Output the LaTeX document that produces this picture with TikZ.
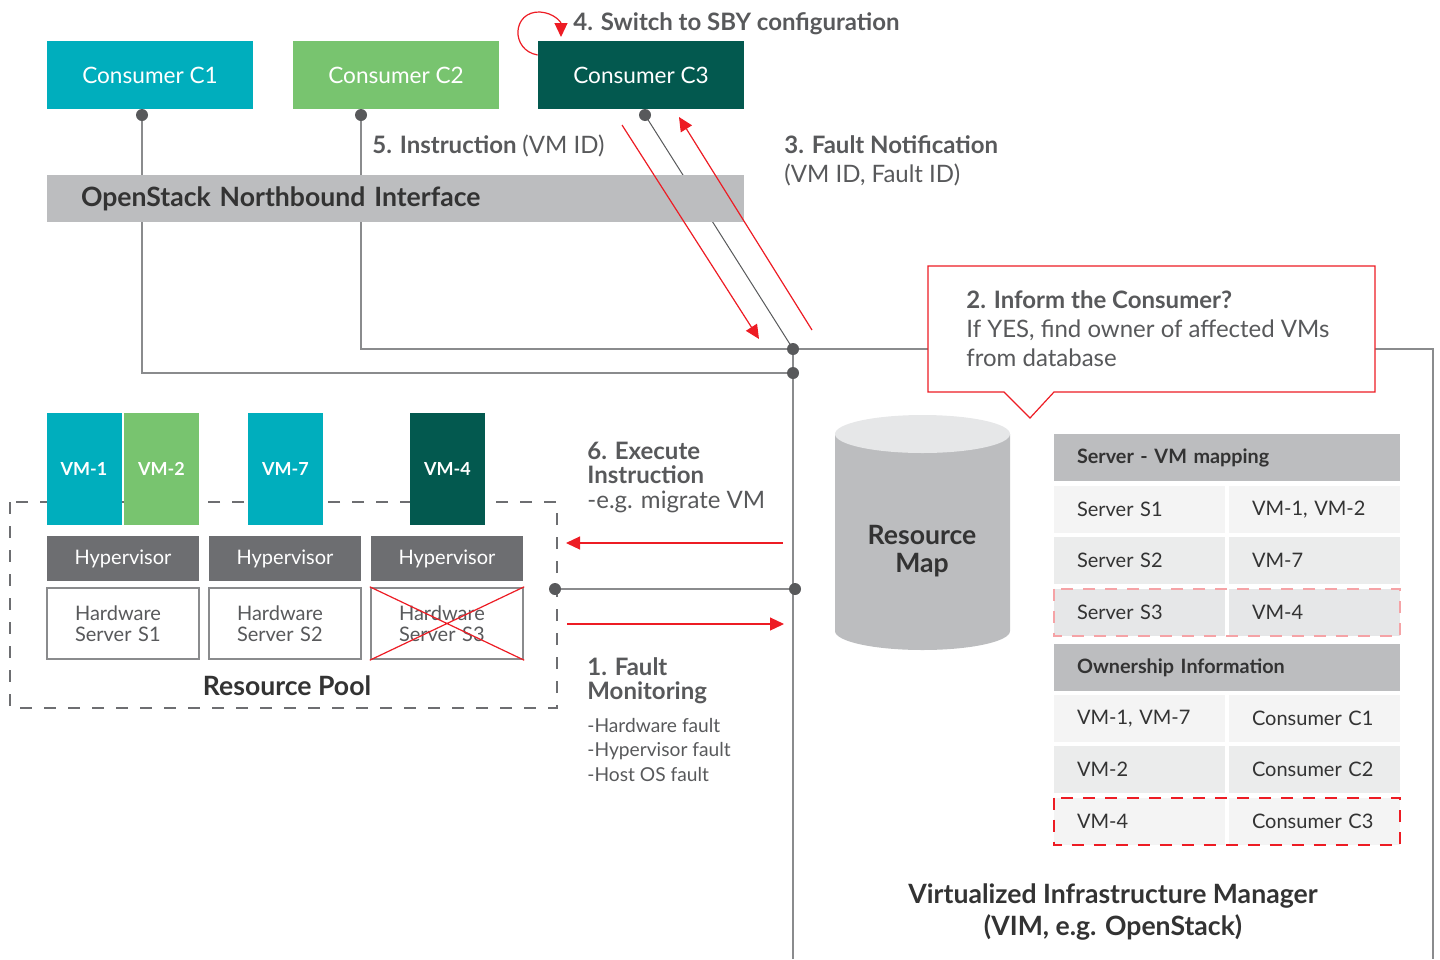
\documentclass[tikz,border=0pt]{standalone}
\usepackage{fontspec}
\setmainfont{Lato}
\usetikzlibrary{arrows.meta}

\definecolor{tealc}{HTML}{00AEBD}
\definecolor{greenc}{HTML}{78C46F}
\definecolor{darkc}{HTML}{03594F}
\definecolor{barg}{HTML}{BCBDBF}
\definecolor{hvg}{HTML}{6D6E71}
\definecolor{lineg}{HTML}{8A8B8D}
\definecolor{dotg}{HTML}{58595B}
\definecolor{txtg}{HTML}{58595B}
\definecolor{txtd}{HTML}{333333}
\definecolor{redc}{HTML}{ED1C24}
\definecolor{redl}{HTML}{F5A3A6}
\definecolor{rowa}{HTML}{F4F4F4}
\definecolor{rowb}{HTML}{EBECEC}
\definecolor{rowc}{HTML}{E6E7E8}

\pgfdeclarelayer{background}
\pgfsetlayers{background,main}

\tikzset{
  consumer/.style={minimum width=103pt, minimum height=34pt, text=white, font=\fontsize{11.3}{13}\selectfont},
  vmbox/.style={minimum width=37.5pt, minimum height=56pt, text=white, font=\bfseries\fontsize{9}{11}\selectfont},
  hyper/.style={fill=hvg, minimum width=76pt, minimum height=22.5pt, text=white, font=\fontsize{10}{11}\selectfont},
  hwbox/.style={draw=lineg, line width=1.2pt, fill=white, minimum width=76pt, minimum height=35.5pt,
    text width=48pt, inner xsep=14pt, align=left, text=txtg, font=\fontsize{10}{10.5}\selectfont},
  dot/.style={circle, fill=dotg, minimum size=6pt},
  wire/.style={draw=lineg, line width=0.75pt},
  redarrow/.style={draw=redc, line width=0.6pt, -{Triangle[length=7pt,width=6.5pt]}},
  lbl/.style={text=txtg, font=\bfseries\fontsize{12}{14.5}\selectfont, align=left},
  small/.style={text=txtg, font=\fontsize{9.6}{12.25}\selectfont, align=left},
  heading/.style={text=txtd, font=\bfseries\fontsize{13.3}{16}\selectfont},
  cellhead/.style={fill=barg, minimum width=173pt, minimum height=23.5pt, text width=150pt,
    inner xsep=11.5pt, align=left, text=txtd, font=\bfseries\fontsize{9.9}{11}\selectfont},
  cell/.style={fill=#1, minimum width=85.5pt, minimum height=23.5pt, text width=62.5pt,
    inner xsep=11.5pt, align=left, text=txtd, font=\fontsize{10}{11}\selectfont},
  faultrow/.style={draw=#1, line width=1pt, dash pattern=on 6pt off 5pt},
}

\begin{document}
\begin{tikzpicture}[x=0.5pt,y=-0.5pt,every node/.style={inner sep=0pt}]
\useasboundingbox (0,0) rectangle (1440,959);

% consumers
\node[consumer, fill=tealc] (c1) at (150,75) {Consumer C1};
\node[consumer, fill=greenc] (c2) at (396,75) {Consumer C2};
\node[consumer, fill=darkc] (c3) at (641,75) {Consumer C3};

% northbound interface
\node[heading, fill=barg, minimum width=348.5pt, minimum height=23.5pt, text width=314.5pt, inner xsep=17pt,
  align=left] (nbi) at (395.5,198.5) {OpenStack Northbound Interface};

% VMs on the servers
\node[vmbox, fill=tealc] (vm1) at (84,469) {VM-1};
\node[vmbox, fill=greenc] (vm2) at (161.5,469) {VM-2};
\node[vmbox, fill=tealc] (vm7) at (285.5,469) {VM-7};
\node[vmbox, fill=darkc] (vm4) at (447.5,469) {VM-4};

\node[hyper] (hv1) at (123,558.5) {Hypervisor};
\node[hyper] (hv2) at (285,558.5) {Hypervisor};
\node[hyper] (hv3) at (447,558.5) {Hypervisor};

\node[hwbox] (hw1) at (123,623.5) {Hardware\\Server S1};
\node[hwbox] (hw2) at (285,623.5) {Hardware\\Server S2};
\node[hwbox] (hw3) at (447,623.5) {Hardware\\Server S3};
\draw[redc, line width=0.6pt] (hw3.north west) -- (hw3.south east) (hw3.south west) -- (hw3.north east);

\node[heading, anchor=base] (pool) at (287,695) {Resource Pool};

% resource map
\fill[barg] (835,434) -- (835,631) arc[start angle=180, end angle=360, x radius=43.75pt, y radius=9.5pt] -- (1010,434) -- cycle;
\fill[rowc] (922.5,434) ellipse[x radius=43.75pt, y radius=9.5pt];
\node[heading, align=center, font=\bfseries\fontsize{13.3}{14}\selectfont] (rmap) at (922,551) {Resource\\Map};

% tables
\node[cellhead] (h1) at (1227,457.5) {Server - VM mapping};
\foreach \y/\l/\r/\c [count=\i] in {509.5/Server S1/{VM-1, VM-2}/rowa, 560.5/Server S2/VM-7/rowb, 612.5/Server S3/VM-4/rowc}{
  \node[cell=\c] (sl\i) at (1139.5,\y) {\l};
  \node[cell=\c] (sr\i) at (1314.5,\y) {\r};
}
\node[cellhead] (h2) at (1227,667.5) {Ownership Information};
\foreach \y/\l/\r/\c [count=\i] in {718.5/{VM-1, VM-7}/Consumer C1/rowa, 769.5/VM-2/Consumer C2/rowb, 821.5/VM-4/Consumer C3/rowa}{
  \node[cell=\c] (ol\i) at (1139.5,\y) {\l};
  \node[cell=\c] (or\i) at (1314.5,\y) {\r};
}
\draw[faultrow=redl] (sl3.north west) rectangle (sr3.south east);
\draw[faultrow=redc] (ol3.north west) rectangle (or3.south east);

% callout
\filldraw[fill=white, draw=redc, line width=0.6pt] (928,266) -- (1375,266) -- (1375,392) -- (1054,392)
  -- (1030,418) -- (1004,392) -- (928,392) -- cycle;
\node[lbl, anchor=base west] (inform) at (966,366) {2. Inform the Consumer?\\
  \mdseries If YES, find owner of affected VMs\\ \mdseries from database};

% step labels (base = last line)
\node[lbl, anchor=base west] (t4) at (573,30) {4. Switch to SBY configuration};
\node[lbl, anchor=base west] (t5) at (372,153) {5. Instruction \mdseries(VM ID)};
\node[lbl, anchor=base west] (t3) at (784,182) {3. Fault Notification\\ \mdseries(VM ID, Fault ID)};
\node[lbl, anchor=base west, font=\bfseries\fontsize{12}{12.25}\selectfont] (t6) at (587,508) {6. Execute\\Instruction\\ \mdseries -e.g. migrate VM};
\node[lbl, anchor=base west, font=\bfseries\fontsize{12}{12}\selectfont] (t1) at (587,699) {1. Fault\\Monitoring};
\node[small, anchor=base west] (t1b) at (587,781) {-Hardware fault\\-Hypervisor fault\\-Host OS fault};

\node[heading, align=center, anchor=base] (vim) at (1113,935)
  {Virtualized Infrastructure Manager\\(VIM, e.g. OpenStack)};

% junction dots
\node[dot] (d1) at (142,115) {};
\node[dot] (d2) at (361,115) {};
\node[dot] (d3) at (645,115) {};
\node[dot] (j1) at (793,349) {};
\node[dot] (j2) at (793,373) {};
\node[dot] (p1) at (555,589) {};
\node[dot] (p2) at (795,589) {};

% wiring behind the boxes
\begin{pgfonlayer}{background}
\draw[draw=hvg, line width=0.8pt, dash pattern=on 6pt off 6pt] (10,502) rectangle (557,708);
\draw[wire] (d1.center) |- (j2.center);
\draw[wire] (d2.center) |- (j1.center);
\draw[draw=dotg, line width=0.5pt] (d3.center) -- (j1.center);
\draw[wire] (p1.center) -- (p2.center);
\draw[wire] (793,959) -- (j1.center) -- (1433,349) -- (1433,959);
\end{pgfonlayer}

% fault and instruction flow
\draw[redarrow] (622,125) -- (759,339);
\draw[redarrow] (812,330) -- (679,117);
\draw[redarrow] (783,543) -- (566,543);
\draw[redarrow] (567,624) -- (784,624);
\draw[redarrow] (c3.west |- 0,55) .. controls (510,50) and (512,11) .. (540,12)
  .. controls (554,13) and (561,22) .. (561,37);
\end{tikzpicture}
\end{document}
